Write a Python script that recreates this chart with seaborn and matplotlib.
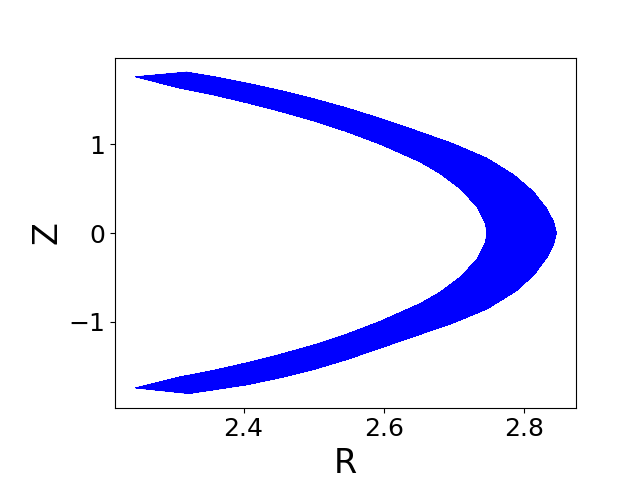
# Crescent-shaped R-Z region (outer edge of a flux-surface band)
import numpy as np
import pandas as pd
import matplotlib
matplotlib.use('Agg')
import matplotlib.pyplot as plt
import seaborn as sns

sns.set_style("ticks", {"axes.edgecolor": "black", "text.color": "black",
                        "axes.labelcolor": "black", "xtick.color": "black",
                        "ytick.color": "black", "xtick.direction": "out",
                        "ytick.direction": "out"})
plt.rcParams['font.family'] = ['DejaVu Sans']

# outer boundary, top -> bottom
outer_R = [2.319, 2.357, 2.405, 2.452, 2.500, 2.547, 2.595, 2.652, 2.699, 2.747,
           2.785, 2.813, 2.832, 2.842, 2.846, 2.842, 2.832, 2.815, 2.790, 2.747,
           2.699, 2.652, 2.595, 2.547, 2.500, 2.452, 2.405, 2.357, 2.322]
outer_Z = [1.812, 1.761, 1.687, 1.605, 1.511, 1.408, 1.290, 1.136, 1.004, 0.841,
           0.655, 0.465, 0.275, 0.125, 0.000, -0.130, -0.280, -0.460, -0.645, -0.855,
           -1.012, -1.140, -1.295, -1.425, -1.537, -1.630, -1.708, -1.766, -1.807]

# tips where the two edges meet
tip_R = [2.246, 2.246]
tip_Z = [-1.744, 1.759]

# inner boundary, bottom -> top
inner_R = [2.310, 2.357, 2.405, 2.452, 2.500, 2.547, 2.595, 2.652, 2.680, 2.709,
           2.733, 2.745, 2.747, 2.745, 2.733, 2.709, 2.680, 2.652, 2.595, 2.547,
           2.500, 2.452, 2.405, 2.357, 2.310]
inner_Z = [-1.620, -1.548, -1.462, -1.368, -1.262, -1.140, -0.995, -0.795, -0.668, -0.498,
           -0.296, -0.109, 0.000, 0.109, 0.297, 0.501, 0.672, 0.801, 1.001, 1.143,
           1.263, 1.371, 1.467, 1.556, 1.631]

# closed outline of the band
shape = pd.DataFrame({
    'R': outer_R + tip_R[:1] + inner_R + tip_R[1:],
    'Z': outer_Z + tip_Z[:1] + inner_Z + tip_Z[1:],
})

fig, ax = plt.subplots(figsize=(6.4, 4.8), dpi=100)
fig.subplots_adjust(left=0.18, right=0.9, bottom=0.151, top=0.879)

ax.fill(shape['R'], shape['Z'], color='blue', lw=0, antialiased=False)
sns.lineplot(data=pd.concat([shape, shape.iloc[:1]]), x='R', y='Z', sort=False,
             estimator=None, color='blue', lw=0.5, ax=ax)

ax.set_xlim(2.217, 2.874)
ax.set_ylim(-1.965, 1.97)
ax.set_xticks([2.4, 2.6, 2.8])
ax.set_yticks([-1, 0, 1])
ax.tick_params(labelsize=18)
ax.set_xlabel('R', fontsize=24)
ax.set_ylabel('Z', fontsize=24)

plt.savefig('out.png', dpi=100)
